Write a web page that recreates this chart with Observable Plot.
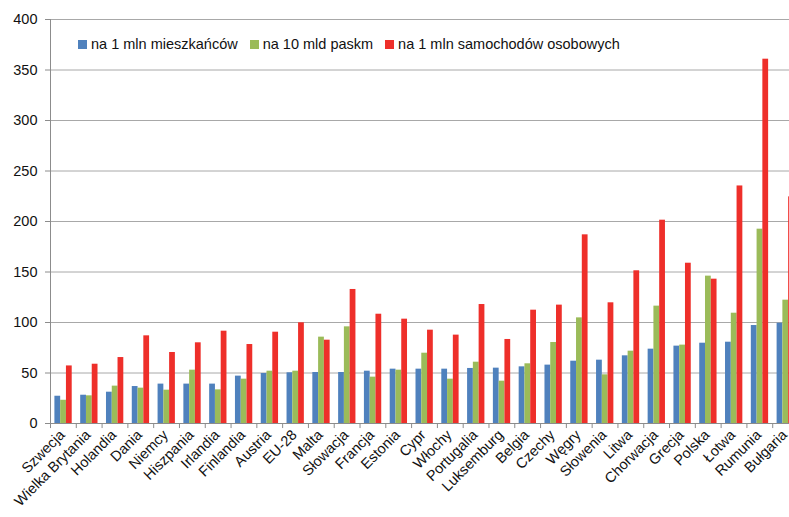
<!DOCTYPE html>
<html>
<head>
<meta charset="utf-8">
<script src="https://cdn.jsdelivr.net/npm/d3@7"></script>
<script src="https://cdn.jsdelivr.net/npm/@observablehq/plot@0.6"></script>
<style>
  html, body { margin: 0; padding: 0; background: #fff; overflow: hidden; }
  #wrap { position: relative; width: 789px; height: 517px; overflow: hidden; }
  #chart { width: 798px; }
  #chart svg { max-width: none !important; width: 798px !important; height: 517px !important; }
  #legend { position: absolute; left: 78px; top: 36px; font-family: "Liberation Sans", Arial, sans-serif; font-size: 14.5px; color: #111; display: flex; gap: 0; white-space: nowrap; }
  #legend .item { display: flex; align-items: center; margin-right: 12px; }
  #legend .sw { width: 9px; height: 9px; margin-right: 4px; display: inline-block; }
</style>
</head>
<body>
<div id="wrap"><div id="chart"></div><div id="legend"></div></div>
<script>
const countries = ["Szwecja","Wielka Brytania","Holandia","Dania","Niemcy","Hiszpania","Irlandia","Finlandia","Austria","EU-28","Malta","Słowacja","Francja","Estonia","Cypr","Włochy","Portugalia","Luksemburg","Belgia","Czechy","Węgry","Słowenia","Litwa","Chorwacja","Grecja","Polska","Łotwa","Rumunia","Bułgaria"];
const perMillionInhabitants = [27,28,31,36.6,39,39,39,46.9,49.5,50.2,50.5,50.5,51.8,53.8,53.8,53.8,54.5,54.8,56.1,57.8,61.7,62.7,67,73.6,76.6,79.5,80.5,97,99.3];
const per10bnPaskm = [23,27.4,37,35,33,52.8,33.3,43.9,51.8,51.8,85.5,95.7,45.9,52.8,69.6,43.9,60.7,41.9,59.1,80.2,104.6,48.2,71.6,116.2,77.6,145.9,109.2,192.4,122.1];
const perMillionCars = [57,58.7,65.3,86.8,70.3,79.9,91.4,78.2,90.4,99.7,82.5,132.7,108.2,103.3,92.4,87.5,117.8,83.2,112.2,117.2,186.8,119.5,151.2,201.3,158.7,142.9,235.2,360.7,224.4];
const seriesNames = ["na 1 mln mieszkańców","na 10 mld paskm","na 1 mln samochodów osobowych"];
const seriesColors = ["#4f81bd","#9bbb59","#ee2f2a"];
const yTicks = [0,50,100,150,200,250,300,350,400];

const seriesValues = [perMillionInhabitants, per10bnPaskm, perMillionCars];
const rows = seriesValues.map(vals => countries.map((c, i) => ({country: c, value: vals[i]})));

const width = 798, marginLeft = 50, marginRight = 0;
const bw = (width - marginLeft - marginRight) / countries.length;
const barW = 5.77, off = 4.4;
const axisColor = "#8c8c8c";

const bars = rows.map((data, k) => Plot.barY(data, {
  x: "country", y: "value", fill: seriesColors[k],
  insetLeft: off + k * barW,
  insetRight: bw - off - (k + 1) * barW
}));

const chart = Plot.plot({
  width, height: 517,
  marginLeft, marginRight, marginTop: 19, marginBottom: 94,
  style: {fontFamily: "'Liberation Sans', Arial, sans-serif", fontSize: "14.5px", color: "#111", background: "#fff", overflow: "visible"},
  x: {domain: countries, padding: 0, round: false, label: null},
  y: {domain: [0, 400], label: null},
  marks: [
    Plot.ruleY(yTicks.slice(1), {stroke: "#a8a8a8", strokeWidth: 1}),
    ...bars,
    Plot.ruleY([0], {stroke: axisColor}),
    Plot.ruleX([countries[0]], {dx: -bw / 2, stroke: axisColor}),
    Plot.ruleX(countries, {y1: 0, y2: -5, dx: -bw / 2, stroke: axisColor}),
    Plot.axisY({ticks: yTicks, tickSize: 5, tickPadding: 8, stroke: axisColor, label: null}),
    Plot.axisX({tickSize: 0, tickRotate: -45, tickPadding: 9, label: null, dx: -1, fill: "#111"})
  ]
});
document.getElementById("chart").appendChild(chart);

const legend = document.getElementById("legend");
seriesNames.forEach((name, k) => {
  const item = document.createElement("span");
  item.className = "item";
  const sw = document.createElement("span");
  sw.className = "sw";
  sw.style.background = seriesColors[k];
  item.appendChild(sw);
  item.appendChild(document.createTextNode(name));
  legend.appendChild(item);
});
</script>
</body>
</html>
